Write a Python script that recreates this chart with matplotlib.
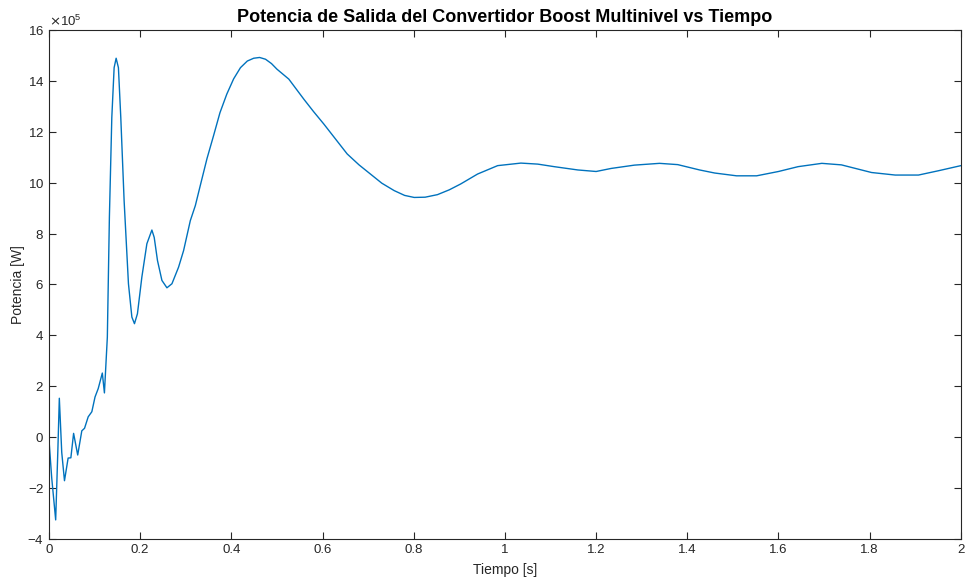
import matplotlib.pyplot as plt
from matplotlib.ticker import ScalarFormatter, FormatStrFormatter

# Datos (potencia en unidades de 1e5 W)
tiempo = [0.0, 0.006, 0.0147, 0.0195, 0.0227, 0.028, 0.034, 0.042, 0.048, 0.054,
          0.063, 0.072, 0.078, 0.086, 0.094, 0.101, 0.108, 0.117, 0.1216, 0.128,
          0.1325, 0.1378, 0.1429, 0.1473, 0.1523, 0.1575, 0.1648, 0.1743, 0.1818, 0.1875,
          0.194, 0.2037, 0.2147, 0.2257, 0.2308, 0.238, 0.2477, 0.2587, 0.2697, 0.2842,
          0.2952, 0.31, 0.321, 0.332, 0.3466, 0.361, 0.375, 0.39, 0.405, 0.42,
          0.435, 0.449, 0.462, 0.475, 0.488, 0.5, 0.526, 0.559, 0.58, 0.603,
          0.63, 0.654, 0.68, 0.705, 0.73, 0.757, 0.78, 0.801, 0.825, 0.852,
          0.878, 0.903, 0.94, 0.984, 1.035, 1.072, 1.108, 1.16, 1.2, 1.233,
          1.284, 1.339, 1.379, 1.427, 1.46, 1.508, 1.552, 1.6, 1.643, 1.695,
          1.738, 1.804, 1.856, 1.907, 1.951, 2.0]
potencia = [-0.1, -1.6, -3.25, -0.5, 1.53, -0.6, -1.71, -0.82, -0.81, 0.15,
            -0.7, 0.25, 0.35, 0.8, 1.0, 1.58, 1.91, 2.52, 1.74, 3.93,
            8.64, 12.56, 14.52, 14.89, 14.52, 12.56, 9.29, 6.03, 4.72, 4.46,
            4.85, 6.29, 7.6, 8.14, 7.85, 6.94, 6.16, 5.87, 6.03, 6.68,
            7.33, 8.51, 9.1, 9.9, 10.95, 11.85, 12.75, 13.48, 14.08, 14.52,
            14.78, 14.89, 14.92, 14.85, 14.68, 14.46, 14.07, 13.28, 12.8, 12.3,
            11.68, 11.13, 10.7, 10.34, 9.98, 9.69, 9.5, 9.42, 9.43, 9.53,
            9.72, 9.95, 10.34, 10.67, 10.77, 10.73, 10.63, 10.5, 10.44, 10.56,
            10.69, 10.76, 10.71, 10.5, 10.38, 10.27, 10.27, 10.44, 10.63, 10.76,
            10.7, 10.4, 10.3, 10.3, 10.47, 10.67]
potencia = [p * 1e5 for p in potencia]

x_ticks = [0, 0.2, 0.4, 0.6, 0.8, 1.0, 1.2, 1.4, 1.6, 1.8, 2.0]
y_ticks = [-4e5, -2e5, 0, 2e5, 4e5, 6e5, 8e5, 10e5, 12e5, 14e5, 16e5]

plt.rcParams['font.family'] = ['Liberation Sans', 'DejaVu Sans']

fig = plt.figure(figsize=(9.66, 5.8), dpi=100)
ax = fig.add_axes([0.0507, 0.0707, 0.944, 0.8776])
ax.plot(tiempo, potencia, color='#0072BD', linewidth=1.0)

ax.set_xlim(0, 2)
ax.set_ylim(-4e5, 16e5)
ax.set_xticks(x_ticks)
ax.set_yticks(y_ticks)
ax.xaxis.set_major_formatter(FormatStrFormatter('%g'))
fmt = ScalarFormatter(useMathText=True)
fmt.set_powerlimits((5, 5))
ax.yaxis.set_major_formatter(fmt)

gris = '#262626'
for s in ax.spines.values():
    s.set_color(gris)
    s.set_linewidth(0.8)
ax.tick_params(direction='in', top=True, right=True, colors=gris,
               labelsize=9.5, length=5, width=0.8)
ax.yaxis.get_offset_text().set_fontsize(9.5)
ax.yaxis.get_offset_text().set_color(gris)

ax.set_title('Potencia de Salida del Convertidor Boost Multinivel vs Tiempo',
             fontsize=13, fontweight='bold', pad=6)
ax.set_xlabel('Tiempo [s]', fontsize=10, color=gris, labelpad=5)
ax.set_ylabel('Potencia [W]', fontsize=10, color=gris, labelpad=2)

fig.savefig('out.png', dpi=100)
